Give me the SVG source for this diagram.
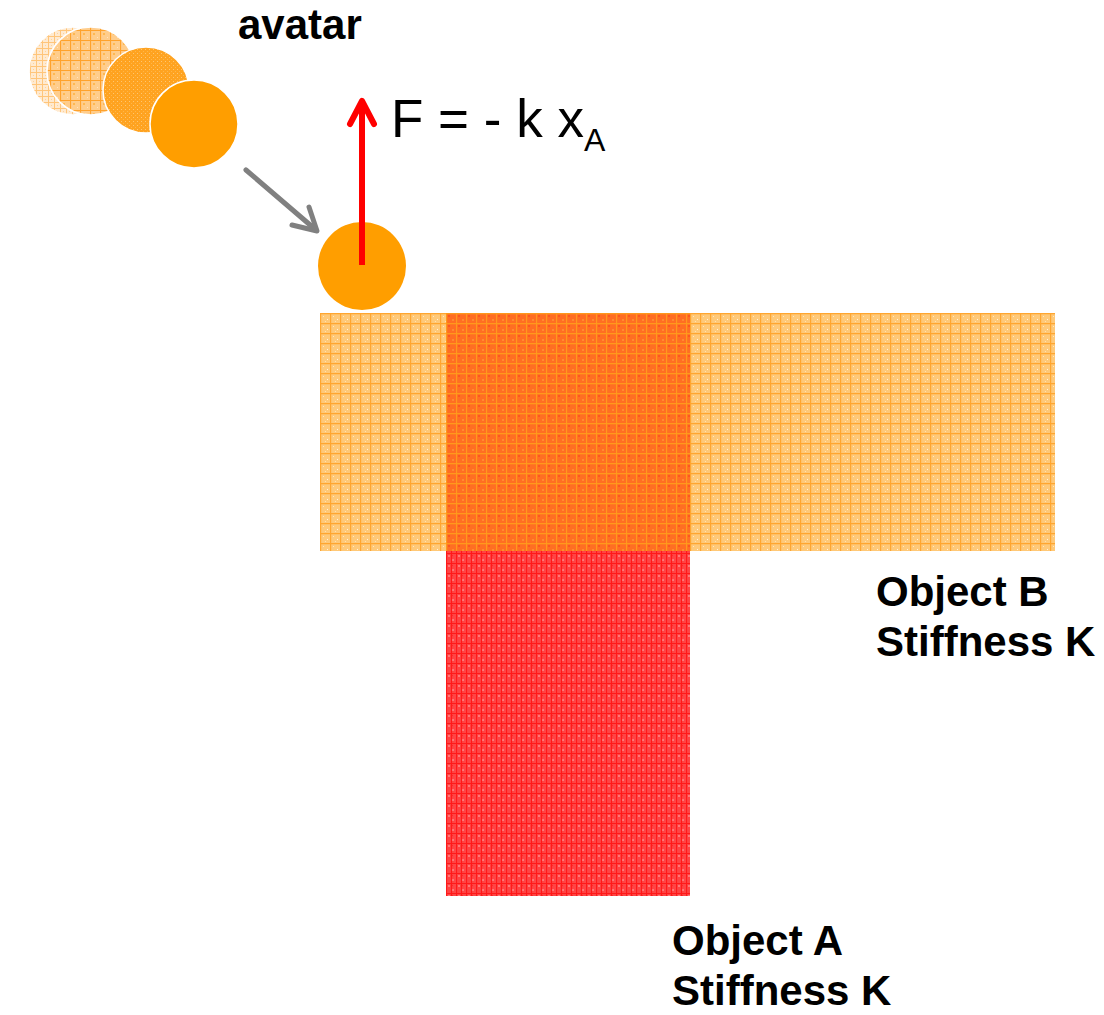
<svg xmlns="http://www.w3.org/2000/svg" width="1104" height="1015" viewBox="0 0 1104 1015">
  <style>
    .label { font-family: "Liberation Sans", Arial, sans-serif; font-weight: bold; font-size: 42px; fill: #000; }
    .formula { font-family: "Liberation Sans", Arial, sans-serif; font-size: 53px; fill: #000; }
    .ball { stroke: #fff; stroke-width: 1.5; }
    .arrow { fill: none; stroke-linecap: round; stroke-linejoin: round; }
  </style>
  <defs>
    <!-- light orange mesh for object B -->
    <pattern id="meshB" patternUnits="userSpaceOnUse" x="320" y="313" width="10" height="10">
      <rect width="10" height="10" fill="#FFC978"/>
      <rect x="3" y="3" width="1" height="1" fill="#FFE6C0"/>
      <rect x="7" y="6" width="1" height="1" fill="#FFF1DD"/>
      <rect x="5" y="8" width="1" height="1" fill="#FFE0B0"/>
      <path d="M0.5 0V10M0 0.5H10" stroke="#FFA630" stroke-width="1.4"/>
    </pattern>
    <!-- red mesh for object A -->
    <pattern id="meshA" patternUnits="userSpaceOnUse" x="446" y="313" width="10" height="10">
      <rect width="10" height="10" fill="#FF4444"/>
      <rect x="2" y="2" width="2" height="2" fill="#FF7878"/>
      <rect x="6" y="6" width="2" height="2" fill="#FF7878"/>
      <rect x="6" y="2" width="1" height="1" fill="#FF2A2A"/>
      <path d="M0.5 0V10M0 0.5H10M5.5 0V10" stroke="#FF1A1A" stroke-width="1.2"/>
    </pattern>
    <!-- overlap of A and B -->
    <pattern id="meshAB" patternUnits="userSpaceOnUse" x="446" y="313" width="10" height="10">
      <rect width="10" height="10" fill="#FF6E22"/>
      <rect x="2" y="2" width="2" height="2" fill="#FF5520"/>
      <rect x="6" y="6" width="2" height="2" fill="#FF8A30"/>
      <path d="M0.5 0V10M0 0.5H10" stroke="#FF981C" stroke-width="1.3"/>
    </pattern>
    <!-- faded avatar trails -->
    <pattern id="trail1" patternUnits="userSpaceOnUse" width="6" height="6">
      <rect width="6" height="6" fill="#FFEAD0"/>
      <path d="M0.5 0V6M0 0.5H6" stroke="#FFC57A" stroke-width="1"/>
      <rect x="3" y="3" width="1" height="1" fill="#FFD29A"/>
    </pattern>
    <pattern id="trail2" patternUnits="userSpaceOnUse" width="10" height="10">
      <rect width="10" height="10" fill="#FFCD8C"/>
      <rect x="3" y="3" width="2" height="2" fill="#FFB850"/>
      <rect x="7" y="7" width="1" height="1" fill="#FFE4C0"/>
      <path d="M0.5 0V10M0 0.5H10" stroke="#FFA22C" stroke-width="1.2"/>
    </pattern>
    <pattern id="trail3" patternUnits="userSpaceOnUse" width="4" height="4">
      <rect width="4" height="4" fill="#FFA320"/>
      <rect x="1" y="1" width="1" height="1" fill="#FFC670"/>
      <rect x="3" y="3" width="1" height="1" fill="#FFB648"/>
    </pattern>
  </defs>

  <!-- avatar motion trail -->
  <g id="avatar-trail">
    <circle class="ball" cx="73" cy="71" r="44" fill="url(#trail1)"/>
    <circle class="ball" cx="91" cy="71" r="44" fill="url(#trail2)"/>
    <circle class="ball" cx="146" cy="90" r="43" fill="url(#trail3)"/>
    <circle class="ball" cx="194" cy="124" r="44" fill="#FF9E00"/>
  </g>

  <g id="avatar-label">
    <text class="label" x="238" y="39">avatar</text>
  </g>

  <!-- avatar in contact -->
  <g id="avatar-contact">
    <circle cx="362" cy="266" r="44" fill="#FF9E00"/>
  </g>

  <!-- object B (horizontal bar) -->
  <g id="object-b">
    <rect x="320" y="313" width="735" height="238" fill="url(#meshB)"/>
  </g>

  <!-- object A (vertical bar) -->
  <g id="object-a">
    <rect x="446" y="551" width="244" height="345" fill="url(#meshA)"/>
    <rect x="446" y="313" width="244" height="238" fill="url(#meshAB)"/>
  </g>

  <g id="label-b">
    <text class="label" x="876" y="606">Object B</text>
    <text class="label" x="876" y="656">Stiffness K</text>
  </g>
  <g id="label-a">
    <text class="label" x="672" y="955">Object A</text>
    <text class="label" x="672" y="1005">Stiffness K</text>
  </g>

  <g id="force-label">
    <text class="formula" x="391" y="137">F = - k x<tspan font-size="32" dy="14">A</tspan></text>
  </g>

  <!-- connectors -->
  <g id="connectors">
    <g class="arrow" stroke="#808080" stroke-width="5">
      <path d="M246 170L316 230"/>
      <path d="M292 225L317 231L309 207"/>
    </g>
    <g class="arrow" stroke="#FF0000" stroke-width="6">
      <path d="M362 265V101" stroke-linecap="butt"/>
      <path d="M350 124L362 101L374 124"/>
    </g>
  </g>
</svg>
